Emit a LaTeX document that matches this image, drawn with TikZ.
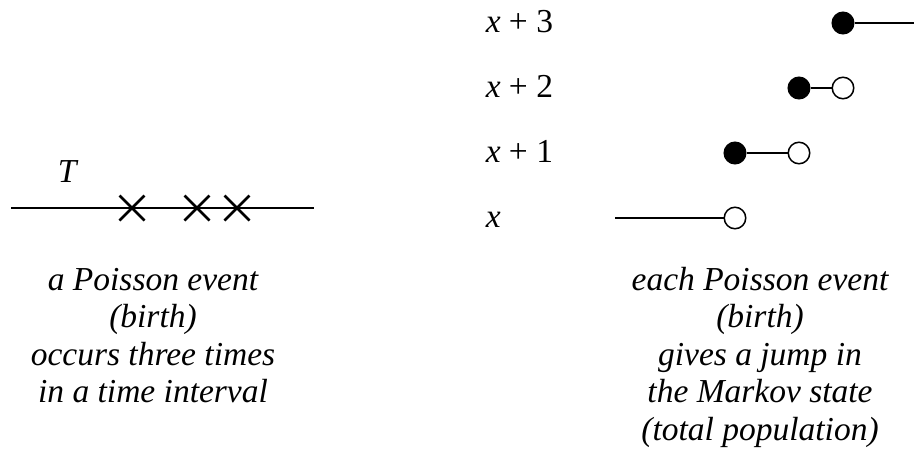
\documentclass[tikz,border=0pt]{standalone}
\usepackage{fontspec}
\setmainfont{Liberation Serif}
\usetikzlibrary{shapes.misc, positioning}
\tikzset{
    punto/.style={circle, draw, line width=1.5pt, minimum size=21.5pt, inner sep=0pt},
    lleno/.style={punto, fill=black},
    vacio/.style={punto, fill=white},
    cruz/.style={cross out, draw, line width=2.6pt, minimum size=25pt, inner sep=0pt, outer sep=0pt},
    rotulo/.style={font=\fontsize{33.5}{37.5}\selectfont\itshape, align=center, inner sep=0pt},
    nivel/.style={font=\fontsize{33.5}{37.5}\selectfont, anchor=base west, inner sep=0pt},
}
\begin{document}
\begin{tikzpicture}[x=1pt, y=-1pt, line width=1.5pt]
\useasboundingbox (0,0) rectangle (914,450);
% Left: time interval with three events
\coordinate (t0) at (11,208);
\coordinate (t1) at (314,208);
\draw (t0) -- (t1);
\foreach \n/\x in {a/132, b/197, c/237} {
    \node[cruz] (ev\n) at (\x,208) {};
}
\node[nivel, font=\fontsize{33.5}{37.5}\selectfont\itshape] (T) at (57,182) {T};
\node[rotulo, anchor=north] (izq) at (153,267.5) {a Poisson event\\(birth)\\occurs three times\\in a time interval};
% Right: levels of the Markov state
\foreach \k/\y in {3/32, 2/97, 1/162} {
    \node[nivel] (lab\k) at (485,\y) {\textit{x} + \k};
}
\node[nivel] (lab0) at (485,227) {\textit{x}};
% level x
\coordinate (s0) at (615,218);
\node[vacio] (o0) at (735,218) {};
\draw (s0) -- (o0);
% level x+1
\node[lleno] (f1) at (735,153) {};
\node[vacio] (o1) at (799,153) {};
\draw (f1) -- (o1);
% level x+2
\node[lleno] (f2) at (799,88) {};
\node[vacio] (o2) at (843,88) {};
\draw (f2) -- (o2);
% level x+3
\node[lleno] (f3) at (843,23) {};
\coordinate (e3) at (914,23);
\draw (f3) -- (e3);
\node[rotulo, anchor=north] (der) at (760,266.5) {each Poisson event\\(birth)\\gives a jump in\\the Markov state\\(total population)};
\end{tikzpicture}
\end{document}
